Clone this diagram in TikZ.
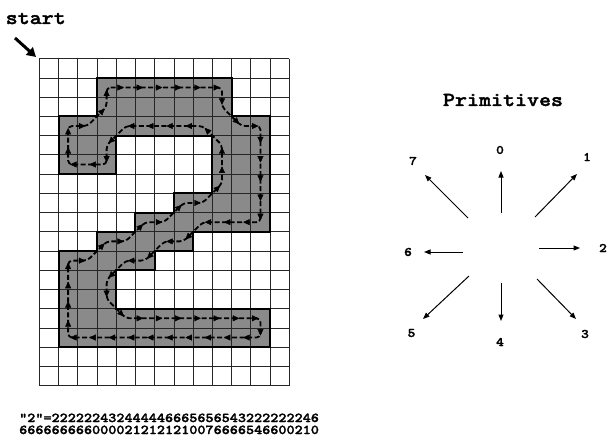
\documentclass[tikz,border=0pt]{standalone}
\usepackage{fontspec}
\newfontfamily\courbf[FakeStretch=1.143, FakeBold=1.8]{lmmonolt10-bold.otf}
\usetikzlibrary{arrows.meta,decorations.markings}
\definecolor{shadegray}{RGB}{138,138,138}
\begin{document}
\begin{tikzpicture}[x=1pt,y=-1pt,
  gridline/.style={draw=black!85, line width=0.8pt},
  shapefill/.style={fill=shadegray},
  outline/.style={draw=black, line width=2pt, line join=miter},
  chainline/.style={draw=black, line width=1.8pt, dash pattern=on 5pt off 2.5pt, rounded corners=4pt},
  chainhead/.style={decoration={markings, mark=at position 0.9 with {\arrow{Triangle[length=6.5pt,width=6pt]}}}, decorate},
  primarrow/.style={draw=black, line width=1pt, -{Triangle[length=6.5pt,width=5pt]}},
  startarrow/.style={draw=black, line width=3pt, -{Triangle[length=9pt,width=10pt]}},
  digit/.style={font=\fontsize{13}{13}\selectfont\courbf, inner sep=0pt},
  titletext/.style={font=\fontsize{20}{20}\selectfont\courbf, inner sep=0pt},
  codetext/.style={font=\fontsize{13.5}{13.5}\selectfont\courbf, inner sep=0pt, anchor=base west},
]
\useasboundingbox (0,0) rectangle (607,441);

% title texts
\node[titletext, anchor=base west] (start) at (5.5,24) {start};
\node[titletext, anchor=base] (prims) at (503,106) {Primitives};

% start arrow
\coordinate (sa) at (15,38);
\coordinate (sb) at (36,57);
\draw[startarrow] (sa) -- (sb);

% grid with shaded digit
\begin{scope}[shift={(39.3pt,-58.7pt)}, x=19.23pt, y=-19.23pt]
  \path[shapefill] (3,1) -- (10,1) -- (10,3) -- (12,3) -- (12,9) -- (8,9) -- (8,10) -- (6,10) -- (6,11) -- (4,11) -- (4,13) -- (12,13) -- (12,15) -- (1,15) -- (1,10) -- (3,10) -- (3,9) -- (5,9) -- (5,8) -- (7,8) -- (7,7) -- (9,7) -- (9,4) -- (4,4) -- (4,6) -- (1,6) -- (1,3) -- (3,3) -- cycle;
  \foreach \k in {0,...,13} \draw[gridline] (\k,0) -- (\k,17);
  \foreach \k in {0,...,17} \draw[gridline] (0,\k) -- (13,\k);
  \draw[outline] (3,1) -- (10,1) -- (10,3) -- (12,3) -- (12,9) -- (8,9) -- (8,10) -- (6,10) -- (6,11) -- (4,11) -- (4,13) -- (12,13) -- (12,15) -- (1,15) -- (1,10) -- (3,10) -- (3,9) -- (5,9) -- (5,8) -- (7,8) -- (7,7) -- (9,7) -- (9,4) -- (4,4) -- (4,6) -- (1,6) -- (1,3) -- (3,3) -- cycle;
  \foreach \cx/\cy [count=\i from 0] in {3/1,4/1,5/1,6/1,7/1,8/1,9/1,9/2,10/3,11/3,11/4,11/5,11/6,11/7,11/8,10/8,9/8,8/8,7/9,6/9,5/10,4/10,3/11,3/12,4/13,5/13,6/13,7/13,8/13,9/13,10/13,11/13,11/14,10/14,9/14,8/14,7/14,6/14,5/14,4/14,3/14,2/14,1/14,1/13,1/12,1/11,1/10,2/10,3/9,4/9,5/8,6/8,7/7,8/7,9/6,9/5,9/4,8/3,7/3,6/3,5/3,4/3,3/4,3/5,2/5,1/5,1/4,1/3,2/3,3/2}
    \coordinate (c\i) at (\cx+0.5,\cy+0.5);
  \draw[chainline] (c0) \foreach \i in {1,...,69} {-- (c\i)} -- cycle;
  \foreach \i [remember=\i as \j (initially 0)] in {1,...,69}
    \path[chainhead] (c\j) -- (c\i);
  \path[chainhead] (c69) -- (c0);
\end{scope}

% primitives
\coordinate (p0s) at (501,213); \coordinate (p0e) at (501,171);
\coordinate (p1s) at (535,217); \coordinate (p1e) at (577,174);
\coordinate (p2s) at (539,248); \coordinate (p2e) at (580,248);
\coordinate (p3s) at (537,279); \coordinate (p3e) at (576,319);
\coordinate (p4s) at (501,283); \coordinate (p4e) at (501,321);
\coordinate (p5s) at (469,276); \coordinate (p5e) at (423,319);
\coordinate (p6s) at (463,252); \coordinate (p6e) at (424,252);
\coordinate (p7s) at (468,218); \coordinate (p7e) at (425,175);
\foreach \k in {0,...,7} \draw[primarrow] (p\k s) -- (p\k e);

\node[digit] (l0) at (500,150) {0};
\node[digit] (l1) at (587,157) {1};
\node[digit] (l2) at (603,248) {2};
\node[digit] (l3) at (585,334) {3};
\node[digit] (l4) at (500,342) {4};
\node[digit] (l5) at (411.5,333) {5};
\node[digit] (l6) at (408,252) {6};
\node[digit] (l7) at (413,161) {7};

% chain code text
\node[codetext] (code1) at (19,422) {"2"=222222432444446665656543222222246};
\node[codetext] (code2) at (19,434) {6666666660000212121210076666546600210};
\end{tikzpicture}
\end{document}
